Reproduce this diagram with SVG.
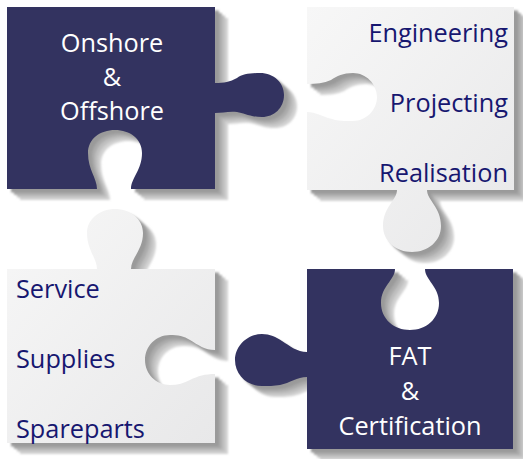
<svg xmlns="http://www.w3.org/2000/svg" xmlns:xlink="http://www.w3.org/1999/xlink" width="523" height="459" viewBox="0 0 523 459">
<defs>
<linearGradient id="light" x1="0" y1="0" x2="1" y2="1">
<stop offset="0" stop-color="#f7f7f7"/>
<stop offset="1" stop-color="#e8e8e9"/>
</linearGradient>
<filter id="soft" x="-10%" y="-10%" width="120%" height="120%"><feGaussianBlur stdDeviation="0.9"/></filter>
<path id="p-tl" d="M7,7 H215 V83 C224,83 230,82 237,78 C242,74 250,73 260,73 C274,73 284,83 284,95 C284,108 274,117 262,117 C250,117 244,113 237,112 C229,111 222,113 215,113 V189 H131 C131,178 142,170 142,153 C142,139 130,130 115,130 C100,130 88,139 88,153 C88,170 97,178 97,189 H7 Z"/>
<path id="p-tr" d="M307,7 H514 V190 H427 C427,200 441,207 441,226 C441,241 428,252 412,252 C396,252 383,241 383,226 C383,207 397,200 397,190 H307 V112 C316,112 322,117 332,119 C338,121 344,121 353,121 C366,121 377,110 377,97 C377,84 366,73 353,73 C343,73 337,76 331,80 C324,83 316,84 307,84 Z"/>
<path id="p-bl" d="M7,269 H97 C97,258 87,250 87,233 C87,219 100,209 115,209 C130,209 143,219 143,233 C143,250 131,258 131,269 H215 V350 C205,350 198,345 190,340 C184,336 178,335 170,335 C156,335 145,346 145,360 C145,374 156,385 170,385 C178,385 184,383 190,380 C198,376 205,374 215,374 V443 H7 Z"/>
<path id="p-br" d="M307,269 H395 C395,280 381,286 381,303 C381,319 394,330 410,330 C426,330 439,319 439,303 C439,286 425,280 425,269 H513 V449 H307 V377 C297,377 290,383 280,385 C274,386 268,386 262,386 C247,386 235,375 235,360 C235,346 247,334 262,334 C270,334 276,337 282,341 C290,346 297,352 307,352 Z"/>
</defs>
<style>
.s1{fill:#d2d2d2}
.s2{fill:#bfbfbf}
.s3{fill:#ababab}
.s4{fill:#9a9a9a}
.dark{fill:#333360}
.lightp{fill:url(#light)}
text{font-family:"Open Sans","Noto Sans","DejaVu Sans",sans-serif;font-size:25.3px}
.wt{fill:#ffffff;text-anchor:middle}
.nv{fill:#171770}
.r{text-anchor:end}
</style>
<rect width="523" height="459" fill="#ffffff"/>
<g id="connectors"></g>
<g id="node-onshore">
<g filter="url(#soft)">
<use xlink:href="#p-tl" class="s1" transform="translate(13,11)"/>
<use xlink:href="#p-tl" class="s2" transform="translate(10,8.5)"/>
<use xlink:href="#p-tl" class="s3" transform="translate(7,6)"/>
<use xlink:href="#p-tl" class="s4" transform="translate(4,3.5)"/>
</g>
<use xlink:href="#p-tl" class="dark"/>
<text class="wt" x="112" y="52">Onshore</text>
<text class="wt" x="112" y="86">&amp;</text>
<text class="wt" x="112" y="120">Offshore</text>
</g>
<g id="node-engineering">
<g filter="url(#soft)">
<use xlink:href="#p-tr" class="s1" transform="translate(13,11)"/>
<use xlink:href="#p-tr" class="s2" transform="translate(10,8.5)"/>
<use xlink:href="#p-tr" class="s3" transform="translate(7,6)"/>
<use xlink:href="#p-tr" class="s4" transform="translate(4,3.5)"/>
</g>
<use xlink:href="#p-tr" class="lightp"/>
<text class="nv r" x="508" y="42">Engineering</text>
<text class="nv r" x="508" y="112">Projecting</text>
<text class="nv r" x="508" y="182">Realisation</text>
</g>
<g id="node-service">
<g filter="url(#soft)">
<use xlink:href="#p-bl" class="s1" transform="translate(13,11)"/>
<use xlink:href="#p-bl" class="s2" transform="translate(10,8.5)"/>
<use xlink:href="#p-bl" class="s3" transform="translate(7,6)"/>
<use xlink:href="#p-bl" class="s4" transform="translate(4,3.5)"/>
</g>
<use xlink:href="#p-bl" class="lightp"/>
<text class="nv" x="16" y="298">Service</text>
<text class="nv" x="16" y="368">Supplies</text>
<text class="nv" x="16" y="438">Spareparts</text>
</g>
<g id="node-fat">
<g filter="url(#soft)">
<use xlink:href="#p-br" class="s1" transform="translate(13,11)"/>
<use xlink:href="#p-br" class="s2" transform="translate(10,8.5)"/>
<use xlink:href="#p-br" class="s3" transform="translate(7,6)"/>
<use xlink:href="#p-br" class="s4" transform="translate(4,3.5)"/>
</g>
<use xlink:href="#p-br" class="dark"/>
<text class="wt" x="410" y="365">FAT</text>
<text class="wt" x="410" y="400">&amp;</text>
<text class="wt" x="410" y="435">Certification</text>
</g>
</svg>
